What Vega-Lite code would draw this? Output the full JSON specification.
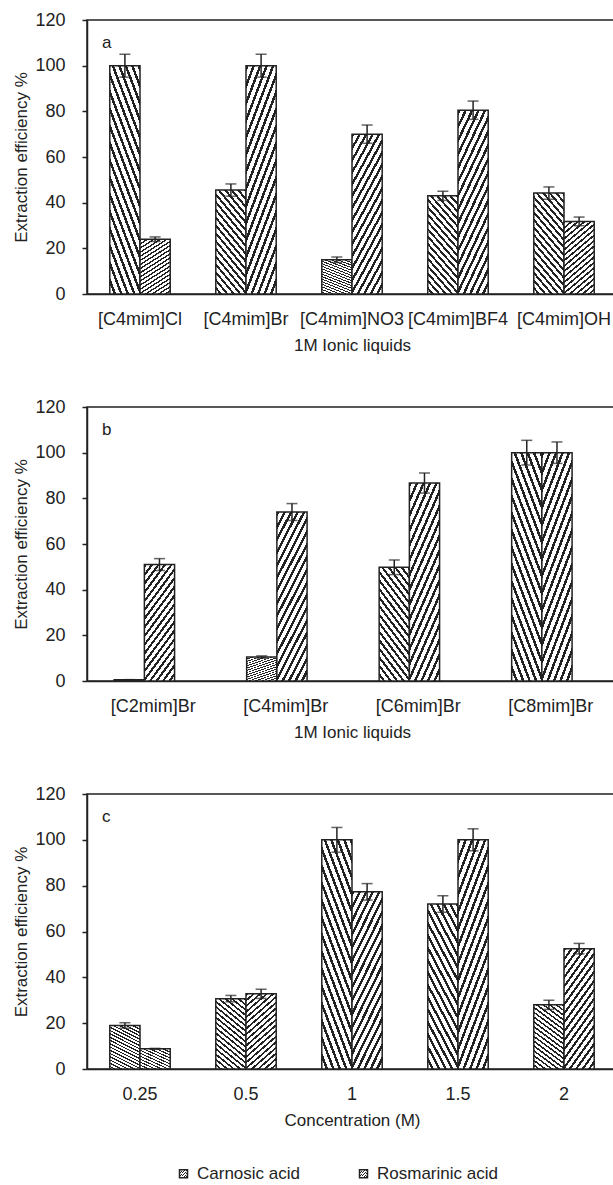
{
  "$schema": "https://vega.github.io/schema/vega-lite/v6.json",
  "background": "white",
  "padding": {"left": 12, "top": 10, "right": 0, "bottom": 0},
  "bounds": "flush",
  "spacing": 113,
  "config": {
    "font": "Liberation Sans",
    "view": {"stroke": "#222", "strokeWidth": 1.5},
    "axis": {"labelFont": "Liberation Sans", "titleFont": "Liberation Sans", "labelFontSize": 18, "titleFontSize": 17, "labelColor": "#222", "titleColor": "#222", "domainColor": "#222", "domainWidth": 1.5, "tickColor": "#222", "tickWidth": 1.5, "grid": false, "titleFontWeight": "normal"},
    "axisX": {"ticks": false, "labelAngle": 0, "labelPadding": 16, "titlePadding": 9, "labelOverlap": false},
    "axisY": {"tickSize": 5, "labelPadding": 17, "titlePadding": 4},
    "legend": {"labelFont": "Liberation Sans", "labelFontSize": 17, "labelColor": "#222", "symbolType": "square", "symbolSize": 64, "padding": 0}
  },
  "datasets": {
    "a": [
      {"cat": "[C4mim]Cl", "acid": "Carnosic acid", "value": 100, "lo": 95, "hi": 105},
      {"cat": "[C4mim]Cl", "acid": "Rosmarinic acid", "value": 24, "lo": 23, "hi": 25},
      {"cat": "[C4mim]Br", "acid": "Carnosic acid", "value": 45.5, "lo": 42.8, "hi": 48.2},
      {"cat": "[C4mim]Br", "acid": "Rosmarinic acid", "value": 100, "lo": 95, "hi": 105},
      {"cat": "[C4mim]NO3", "acid": "Carnosic acid", "value": 15, "lo": 13.8, "hi": 16.2},
      {"cat": "[C4mim]NO3", "acid": "Rosmarinic acid", "value": 70, "lo": 66, "hi": 74},
      {"cat": "[C4mim]BF4", "acid": "Carnosic acid", "value": 43, "lo": 41, "hi": 45},
      {"cat": "[C4mim]BF4", "acid": "Rosmarinic acid", "value": 80.5, "lo": 76.5, "hi": 84.5},
      {"cat": "[C4mim]OH", "acid": "Carnosic acid", "value": 44.2, "lo": 41.5, "hi": 46.9},
      {"cat": "[C4mim]OH", "acid": "Rosmarinic acid", "value": 31.8, "lo": 29.9, "hi": 33.7}
    ],
    "b": [
      {"cat": "[C2mim]Br", "acid": "Carnosic acid", "value": 0.5, "lo": 0.4, "hi": 0.6},
      {"cat": "[C2mim]Br", "acid": "Rosmarinic acid", "value": 51, "lo": 48.4, "hi": 53.6},
      {"cat": "[C4mim]Br", "acid": "Carnosic acid", "value": 10.5, "lo": 10, "hi": 11},
      {"cat": "[C4mim]Br", "acid": "Rosmarinic acid", "value": 74, "lo": 70.3, "hi": 77.7},
      {"cat": "[C6mim]Br", "acid": "Carnosic acid", "value": 49.8, "lo": 46.6, "hi": 53},
      {"cat": "[C6mim]Br", "acid": "Rosmarinic acid", "value": 86.7, "lo": 82.3, "hi": 91.1},
      {"cat": "[C8mim]Br", "acid": "Carnosic acid", "value": 100, "lo": 94.6, "hi": 105.4},
      {"cat": "[C8mim]Br", "acid": "Rosmarinic acid", "value": 100, "lo": 95.3, "hi": 104.7}
    ],
    "c": [
      {"cat": "0.25", "acid": "Carnosic acid", "value": 19, "lo": 17.8, "hi": 20.2},
      {"cat": "0.25", "acid": "Rosmarinic acid", "value": 8.8, "lo": 8.6, "hi": 9},
      {"cat": "0.5", "acid": "Carnosic acid", "value": 30.7, "lo": 29.3, "hi": 32.1},
      {"cat": "0.5", "acid": "Rosmarinic acid", "value": 32.8, "lo": 30.8, "hi": 34.8},
      {"cat": "1", "acid": "Carnosic acid", "value": 100, "lo": 94.6, "hi": 105.4},
      {"cat": "1", "acid": "Rosmarinic acid", "value": 77.3, "lo": 73.7, "hi": 80.9},
      {"cat": "1.5", "acid": "Carnosic acid", "value": 72, "lo": 68.4, "hi": 75.6},
      {"cat": "1.5", "acid": "Rosmarinic acid", "value": 100, "lo": 95.2, "hi": 104.8},
      {"cat": "2", "acid": "Carnosic acid", "value": 28, "lo": 26, "hi": 30},
      {"cat": "2", "acid": "Rosmarinic acid", "value": 52.5, "lo": 50.2, "hi": 54.8}
    ]
  },
  "vconcat": [
    {
      "width": 530, "height": 274,
      "data": {"name": "a"},
      "title": {"text": "a", "anchor": "start", "frame": "group", "offset": -41, "dx": 15, "fontSize": 17, "fontWeight": "normal", "font": "Liberation Sans", "color": "#222"},
      "encoding": {
        "x": {"field": "cat", "type": "nominal", "sort": null, "title": "1M Ionic liquids", "scale": {"paddingInner": 0.43, "paddingOuter": 0.215}},
        "xOffset": {"field": "acid", "type": "nominal", "sort": ["Carnosic acid", "Rosmarinic acid"], "scale": {"paddingInner": 0, "paddingOuter": 0}}
      },
      "layer": [
        {
          "mark": {"type": "bar", "strokeWidth": 1.5},
          "encoding": {
            "y": {"field": "value", "type": "quantitative", "scale": {"domain": [0, 120], "nice": false}, "axis": {"values": [0, 20, 40, 60, 80, 100, 120]}, "title": "Extraction efficiency %"},
            "stroke": {"field": "acid", "type": "nominal", "scale": {"domain": ["Carnosic acid", "Rosmarinic acid"], "range": ["#222", "#222"]},
              "legend": {"title": null, "orient": "none", "legendX": 88, "legendY": 1145, "direction": "horizontal", "columnPadding": 55, "labelOffset": 5,
                "encode": {"symbols": {"update": {"strokeWidth": {"value": 1}, "stroke": {"value": "#222"}, "fill": [
                  {"test": "datum.value === 'Carnosic acid'", "value": {"gradient": "linear", "x1": 0, "y1": 1, "x2": 1, "y2": 0, "stops": [{"offset":0,"color":"#222"},{"offset":0.1667,"color":"#222"},{"offset":0.1667,"color":"#fff"},{"offset":0.3333,"color":"#fff"},{"offset":0.3333,"color":"#222"},{"offset":0.5,"color":"#222"},{"offset":0.5,"color":"#fff"},{"offset":0.6667,"color":"#fff"},{"offset":0.6667,"color":"#222"},{"offset":0.8333,"color":"#222"},{"offset":0.8333,"color":"#fff"},{"offset":1,"color":"#fff"}]}},
                  {"value": {"gradient": "linear", "x1": 0, "y1": 0, "x2": 1, "y2": 1, "stops": [{"offset":0,"color":"#222"},{"offset":0.1667,"color":"#222"},{"offset":0.1667,"color":"#fff"},{"offset":0.3333,"color":"#fff"},{"offset":0.3333,"color":"#222"},{"offset":0.5,"color":"#222"},{"offset":0.5,"color":"#fff"},{"offset":0.6667,"color":"#fff"},{"offset":0.6667,"color":"#222"},{"offset":0.8333,"color":"#222"},{"offset":0.8333,"color":"#fff"},{"offset":1,"color":"#fff"}]}}
                ]}}}}},
            "fill": {"condition": {"test": "datum.acid === 'Carnosic acid'", "value": {"gradient": "linear", "x1": 1, "y1": 0, "x2": 0.579, "y2": 1.203, "stops": [{"offset":0,"color":"#222"},{"offset":0.0222,"color":"#222"},{"offset":0.0222,"color":"#fff"},{"offset":0.0556,"color":"#fff"},{"offset":0.0556,"color":"#222"},{"offset":0.0778,"color":"#222"},{"offset":0.0778,"color":"#fff"},{"offset":0.1111,"color":"#fff"},{"offset":0.1111,"color":"#222"},{"offset":0.1333,"color":"#222"},{"offset":0.1333,"color":"#fff"},{"offset":0.1667,"color":"#fff"},{"offset":0.1667,"color":"#222"},{"offset":0.1889,"color":"#222"},{"offset":0.1889,"color":"#fff"},{"offset":0.2222,"color":"#fff"},{"offset":0.2222,"color":"#222"},{"offset":0.2444,"color":"#222"},{"offset":0.2444,"color":"#fff"},{"offset":0.2778,"color":"#fff"},{"offset":0.2778,"color":"#222"},{"offset":0.3,"color":"#222"},{"offset":0.3,"color":"#fff"},{"offset":0.3333,"color":"#fff"},{"offset":0.3333,"color":"#222"},{"offset":0.3556,"color":"#222"},{"offset":0.3556,"color":"#fff"},{"offset":0.3889,"color":"#fff"},{"offset":0.3889,"color":"#222"},{"offset":0.4111,"color":"#222"},{"offset":0.4111,"color":"#fff"},{"offset":0.4444,"color":"#fff"},{"offset":0.4444,"color":"#222"},{"offset":0.4667,"color":"#222"},{"offset":0.4667,"color":"#fff"},{"offset":0.5,"color":"#fff"},{"offset":0.5,"color":"#222"},{"offset":0.5222,"color":"#222"},{"offset":0.5222,"color":"#fff"},{"offset":0.5556,"color":"#fff"},{"offset":0.5556,"color":"#222"},{"offset":0.5778,"color":"#222"},{"offset":0.5778,"color":"#fff"},{"offset":0.6111,"color":"#fff"},{"offset":0.6111,"color":"#222"},{"offset":0.6333,"color":"#222"},{"offset":0.6333,"color":"#fff"},{"offset":0.6667,"color":"#fff"},{"offset":0.6667,"color":"#222"},{"offset":0.6889,"color":"#222"},{"offset":0.6889,"color":"#fff"},{"offset":0.7222,"color":"#fff"},{"offset":0.7222,"color":"#222"},{"offset":0.7444,"color":"#222"},{"offset":0.7444,"color":"#fff"},{"offset":0.7778,"color":"#fff"},{"offset":0.7778,"color":"#222"},{"offset":0.8,"color":"#222"},{"offset":0.8,"color":"#fff"},{"offset":0.8333,"color":"#fff"},{"offset":0.8333,"color":"#222"},{"offset":0.8556,"color":"#222"},{"offset":0.8556,"color":"#fff"},{"offset":0.8889,"color":"#fff"},{"offset":0.8889,"color":"#222"},{"offset":0.9111,"color":"#222"},{"offset":0.9111,"color":"#fff"},{"offset":0.9444,"color":"#fff"},{"offset":0.9444,"color":"#222"},{"offset":0.9667,"color":"#222"},{"offset":0.9667,"color":"#fff"},{"offset":1,"color":"#fff"}]}},
              "value": {"gradient": "linear", "x1": 0, "y1": 0, "x2": 0.421, "y2": 1.203, "stops": [{"offset":0,"color":"#222"},{"offset":0.0222,"color":"#222"},{"offset":0.0222,"color":"#fff"},{"offset":0.0556,"color":"#fff"},{"offset":0.0556,"color":"#222"},{"offset":0.0778,"color":"#222"},{"offset":0.0778,"color":"#fff"},{"offset":0.1111,"color":"#fff"},{"offset":0.1111,"color":"#222"},{"offset":0.1333,"color":"#222"},{"offset":0.1333,"color":"#fff"},{"offset":0.1667,"color":"#fff"},{"offset":0.1667,"color":"#222"},{"offset":0.1889,"color":"#222"},{"offset":0.1889,"color":"#fff"},{"offset":0.2222,"color":"#fff"},{"offset":0.2222,"color":"#222"},{"offset":0.2444,"color":"#222"},{"offset":0.2444,"color":"#fff"},{"offset":0.2778,"color":"#fff"},{"offset":0.2778,"color":"#222"},{"offset":0.3,"color":"#222"},{"offset":0.3,"color":"#fff"},{"offset":0.3333,"color":"#fff"},{"offset":0.3333,"color":"#222"},{"offset":0.3556,"color":"#222"},{"offset":0.3556,"color":"#fff"},{"offset":0.3889,"color":"#fff"},{"offset":0.3889,"color":"#222"},{"offset":0.4111,"color":"#222"},{"offset":0.4111,"color":"#fff"},{"offset":0.4444,"color":"#fff"},{"offset":0.4444,"color":"#222"},{"offset":0.4667,"color":"#222"},{"offset":0.4667,"color":"#fff"},{"offset":0.5,"color":"#fff"},{"offset":0.5,"color":"#222"},{"offset":0.5222,"color":"#222"},{"offset":0.5222,"color":"#fff"},{"offset":0.5556,"color":"#fff"},{"offset":0.5556,"color":"#222"},{"offset":0.5778,"color":"#222"},{"offset":0.5778,"color":"#fff"},{"offset":0.6111,"color":"#fff"},{"offset":0.6111,"color":"#222"},{"offset":0.6333,"color":"#222"},{"offset":0.6333,"color":"#fff"},{"offset":0.6667,"color":"#fff"},{"offset":0.6667,"color":"#222"},{"offset":0.6889,"color":"#222"},{"offset":0.6889,"color":"#fff"},{"offset":0.7222,"color":"#fff"},{"offset":0.7222,"color":"#222"},{"offset":0.7444,"color":"#222"},{"offset":0.7444,"color":"#fff"},{"offset":0.7778,"color":"#fff"},{"offset":0.7778,"color":"#222"},{"offset":0.8,"color":"#222"},{"offset":0.8,"color":"#fff"},{"offset":0.8333,"color":"#fff"},{"offset":0.8333,"color":"#222"},{"offset":0.8556,"color":"#222"},{"offset":0.8556,"color":"#fff"},{"offset":0.8889,"color":"#fff"},{"offset":0.8889,"color":"#222"},{"offset":0.9111,"color":"#222"},{"offset":0.9111,"color":"#fff"},{"offset":0.9444,"color":"#fff"},{"offset":0.9444,"color":"#222"},{"offset":0.9667,"color":"#222"},{"offset":0.9667,"color":"#fff"},{"offset":1,"color":"#fff"}]}
            }
          }
        },
        {"mark": {"type": "rule", "color": "#222", "strokeWidth": 1.5}, "encoding": {"y": {"field": "lo", "type": "quantitative"}, "y2": {"field": "hi"}}},
        {"mark": {"type": "tick", "color": "#222", "thickness": 1.5, "size": 11}, "encoding": {"y": {"field": "lo", "type": "quantitative"}}},
        {"mark": {"type": "tick", "color": "#222", "thickness": 1.5, "size": 11}, "encoding": {"y": {"field": "hi", "type": "quantitative"}}}
      ]
    },
    {
      "width": 530, "height": 274,
      "data": {"name": "b"},
      "title": {"text": "b", "anchor": "start", "frame": "group", "offset": -41, "dx": 15, "fontSize": 17, "fontWeight": "normal", "font": "Liberation Sans", "color": "#222"},
      "encoding": {
        "x": {"field": "cat", "type": "nominal", "sort": null, "title": "1M Ionic liquids", "scale": {"paddingInner": 0.41, "paddingOuter": 0.205}},
        "xOffset": {"field": "acid", "type": "nominal", "sort": ["Carnosic acid", "Rosmarinic acid"], "scale": {"paddingInner": 0, "paddingOuter": 0}}
      },
      "layer": [
        {
          "mark": {"type": "bar", "strokeWidth": 1.5},
          "encoding": {
            "y": {"field": "value", "type": "quantitative", "scale": {"domain": [0, 120], "nice": false}, "axis": {"values": [0, 20, 40, 60, 80, 100, 120]}, "title": "Extraction efficiency %"},
            "stroke": {"field": "acid", "type": "nominal", "scale": {"domain": ["Carnosic acid", "Rosmarinic acid"], "range": ["#222", "#222"]},
              "legend": {"title": null, "orient": "none", "legendX": 88, "legendY": 1145, "direction": "horizontal", "columnPadding": 55, "labelOffset": 5,
                "encode": {"symbols": {"update": {"strokeWidth": {"value": 1}, "stroke": {"value": "#222"}, "fill": [
                  {"test": "datum.value === 'Carnosic acid'", "value": {"gradient": "linear", "x1": 0, "y1": 1, "x2": 1, "y2": 0, "stops": [{"offset":0,"color":"#222"},{"offset":0.1667,"color":"#222"},{"offset":0.1667,"color":"#fff"},{"offset":0.3333,"color":"#fff"},{"offset":0.3333,"color":"#222"},{"offset":0.5,"color":"#222"},{"offset":0.5,"color":"#fff"},{"offset":0.6667,"color":"#fff"},{"offset":0.6667,"color":"#222"},{"offset":0.8333,"color":"#222"},{"offset":0.8333,"color":"#fff"},{"offset":1,"color":"#fff"}]}},
                  {"value": {"gradient": "linear", "x1": 0, "y1": 0, "x2": 1, "y2": 1, "stops": [{"offset":0,"color":"#222"},{"offset":0.1667,"color":"#222"},{"offset":0.1667,"color":"#fff"},{"offset":0.3333,"color":"#fff"},{"offset":0.3333,"color":"#222"},{"offset":0.5,"color":"#222"},{"offset":0.5,"color":"#fff"},{"offset":0.6667,"color":"#fff"},{"offset":0.6667,"color":"#222"},{"offset":0.8333,"color":"#222"},{"offset":0.8333,"color":"#fff"},{"offset":1,"color":"#fff"}]}}
                ]}}}}},
            "fill": {"condition": {"test": "datum.acid === 'Carnosic acid'", "value": {"gradient": "linear", "x1": 1, "y1": 0, "x2": 0.579, "y2": 1.203, "stops": [{"offset":0,"color":"#222"},{"offset":0.0222,"color":"#222"},{"offset":0.0222,"color":"#fff"},{"offset":0.0556,"color":"#fff"},{"offset":0.0556,"color":"#222"},{"offset":0.0778,"color":"#222"},{"offset":0.0778,"color":"#fff"},{"offset":0.1111,"color":"#fff"},{"offset":0.1111,"color":"#222"},{"offset":0.1333,"color":"#222"},{"offset":0.1333,"color":"#fff"},{"offset":0.1667,"color":"#fff"},{"offset":0.1667,"color":"#222"},{"offset":0.1889,"color":"#222"},{"offset":0.1889,"color":"#fff"},{"offset":0.2222,"color":"#fff"},{"offset":0.2222,"color":"#222"},{"offset":0.2444,"color":"#222"},{"offset":0.2444,"color":"#fff"},{"offset":0.2778,"color":"#fff"},{"offset":0.2778,"color":"#222"},{"offset":0.3,"color":"#222"},{"offset":0.3,"color":"#fff"},{"offset":0.3333,"color":"#fff"},{"offset":0.3333,"color":"#222"},{"offset":0.3556,"color":"#222"},{"offset":0.3556,"color":"#fff"},{"offset":0.3889,"color":"#fff"},{"offset":0.3889,"color":"#222"},{"offset":0.4111,"color":"#222"},{"offset":0.4111,"color":"#fff"},{"offset":0.4444,"color":"#fff"},{"offset":0.4444,"color":"#222"},{"offset":0.4667,"color":"#222"},{"offset":0.4667,"color":"#fff"},{"offset":0.5,"color":"#fff"},{"offset":0.5,"color":"#222"},{"offset":0.5222,"color":"#222"},{"offset":0.5222,"color":"#fff"},{"offset":0.5556,"color":"#fff"},{"offset":0.5556,"color":"#222"},{"offset":0.5778,"color":"#222"},{"offset":0.5778,"color":"#fff"},{"offset":0.6111,"color":"#fff"},{"offset":0.6111,"color":"#222"},{"offset":0.6333,"color":"#222"},{"offset":0.6333,"color":"#fff"},{"offset":0.6667,"color":"#fff"},{"offset":0.6667,"color":"#222"},{"offset":0.6889,"color":"#222"},{"offset":0.6889,"color":"#fff"},{"offset":0.7222,"color":"#fff"},{"offset":0.7222,"color":"#222"},{"offset":0.7444,"color":"#222"},{"offset":0.7444,"color":"#fff"},{"offset":0.7778,"color":"#fff"},{"offset":0.7778,"color":"#222"},{"offset":0.8,"color":"#222"},{"offset":0.8,"color":"#fff"},{"offset":0.8333,"color":"#fff"},{"offset":0.8333,"color":"#222"},{"offset":0.8556,"color":"#222"},{"offset":0.8556,"color":"#fff"},{"offset":0.8889,"color":"#fff"},{"offset":0.8889,"color":"#222"},{"offset":0.9111,"color":"#222"},{"offset":0.9111,"color":"#fff"},{"offset":0.9444,"color":"#fff"},{"offset":0.9444,"color":"#222"},{"offset":0.9667,"color":"#222"},{"offset":0.9667,"color":"#fff"},{"offset":1,"color":"#fff"}]}},
              "value": {"gradient": "linear", "x1": 0, "y1": 0, "x2": 0.421, "y2": 1.203, "stops": [{"offset":0,"color":"#222"},{"offset":0.0222,"color":"#222"},{"offset":0.0222,"color":"#fff"},{"offset":0.0556,"color":"#fff"},{"offset":0.0556,"color":"#222"},{"offset":0.0778,"color":"#222"},{"offset":0.0778,"color":"#fff"},{"offset":0.1111,"color":"#fff"},{"offset":0.1111,"color":"#222"},{"offset":0.1333,"color":"#222"},{"offset":0.1333,"color":"#fff"},{"offset":0.1667,"color":"#fff"},{"offset":0.1667,"color":"#222"},{"offset":0.1889,"color":"#222"},{"offset":0.1889,"color":"#fff"},{"offset":0.2222,"color":"#fff"},{"offset":0.2222,"color":"#222"},{"offset":0.2444,"color":"#222"},{"offset":0.2444,"color":"#fff"},{"offset":0.2778,"color":"#fff"},{"offset":0.2778,"color":"#222"},{"offset":0.3,"color":"#222"},{"offset":0.3,"color":"#fff"},{"offset":0.3333,"color":"#fff"},{"offset":0.3333,"color":"#222"},{"offset":0.3556,"color":"#222"},{"offset":0.3556,"color":"#fff"},{"offset":0.3889,"color":"#fff"},{"offset":0.3889,"color":"#222"},{"offset":0.4111,"color":"#222"},{"offset":0.4111,"color":"#fff"},{"offset":0.4444,"color":"#fff"},{"offset":0.4444,"color":"#222"},{"offset":0.4667,"color":"#222"},{"offset":0.4667,"color":"#fff"},{"offset":0.5,"color":"#fff"},{"offset":0.5,"color":"#222"},{"offset":0.5222,"color":"#222"},{"offset":0.5222,"color":"#fff"},{"offset":0.5556,"color":"#fff"},{"offset":0.5556,"color":"#222"},{"offset":0.5778,"color":"#222"},{"offset":0.5778,"color":"#fff"},{"offset":0.6111,"color":"#fff"},{"offset":0.6111,"color":"#222"},{"offset":0.6333,"color":"#222"},{"offset":0.6333,"color":"#fff"},{"offset":0.6667,"color":"#fff"},{"offset":0.6667,"color":"#222"},{"offset":0.6889,"color":"#222"},{"offset":0.6889,"color":"#fff"},{"offset":0.7222,"color":"#fff"},{"offset":0.7222,"color":"#222"},{"offset":0.7444,"color":"#222"},{"offset":0.7444,"color":"#fff"},{"offset":0.7778,"color":"#fff"},{"offset":0.7778,"color":"#222"},{"offset":0.8,"color":"#222"},{"offset":0.8,"color":"#fff"},{"offset":0.8333,"color":"#fff"},{"offset":0.8333,"color":"#222"},{"offset":0.8556,"color":"#222"},{"offset":0.8556,"color":"#fff"},{"offset":0.8889,"color":"#fff"},{"offset":0.8889,"color":"#222"},{"offset":0.9111,"color":"#222"},{"offset":0.9111,"color":"#fff"},{"offset":0.9444,"color":"#fff"},{"offset":0.9444,"color":"#222"},{"offset":0.9667,"color":"#222"},{"offset":0.9667,"color":"#fff"},{"offset":1,"color":"#fff"}]}
            }
          }
        },
        {"mark": {"type": "rule", "color": "#222", "strokeWidth": 1.5}, "encoding": {"y": {"field": "lo", "type": "quantitative"}, "y2": {"field": "hi"}}},
        {"mark": {"type": "tick", "color": "#222", "thickness": 1.5, "size": 11}, "encoding": {"y": {"field": "lo", "type": "quantitative"}}},
        {"mark": {"type": "tick", "color": "#222", "thickness": 1.5, "size": 11}, "encoding": {"y": {"field": "hi", "type": "quantitative"}}}
      ]
    },
    {
      "width": 530, "height": 275,
      "data": {"name": "c"},
      "title": {"text": "c", "anchor": "start", "frame": "group", "offset": -41, "dx": 15, "fontSize": 17, "fontWeight": "normal", "font": "Liberation Sans", "color": "#222"},
      "encoding": {
        "x": {"field": "cat", "type": "nominal", "sort": null, "title": "Concentration (M)", "scale": {"paddingInner": 0.43, "paddingOuter": 0.215}},
        "xOffset": {"field": "acid", "type": "nominal", "sort": ["Carnosic acid", "Rosmarinic acid"], "scale": {"paddingInner": 0, "paddingOuter": 0}}
      },
      "layer": [
        {
          "mark": {"type": "bar", "strokeWidth": 1.5},
          "encoding": {
            "y": {"field": "value", "type": "quantitative", "scale": {"domain": [0, 120], "nice": false}, "axis": {"values": [0, 20, 40, 60, 80, 100, 120]}, "title": "Extraction efficiency %"},
            "stroke": {"field": "acid", "type": "nominal", "scale": {"domain": ["Carnosic acid", "Rosmarinic acid"], "range": ["#222", "#222"]},
              "legend": {"title": null, "orient": "none", "legendX": 88, "legendY": 1145, "direction": "horizontal", "columnPadding": 55, "labelOffset": 5,
                "encode": {"symbols": {"update": {"strokeWidth": {"value": 1}, "stroke": {"value": "#222"}, "fill": [
                  {"test": "datum.value === 'Carnosic acid'", "value": {"gradient": "linear", "x1": 0, "y1": 1, "x2": 1, "y2": 0, "stops": [{"offset":0,"color":"#222"},{"offset":0.1667,"color":"#222"},{"offset":0.1667,"color":"#fff"},{"offset":0.3333,"color":"#fff"},{"offset":0.3333,"color":"#222"},{"offset":0.5,"color":"#222"},{"offset":0.5,"color":"#fff"},{"offset":0.6667,"color":"#fff"},{"offset":0.6667,"color":"#222"},{"offset":0.8333,"color":"#222"},{"offset":0.8333,"color":"#fff"},{"offset":1,"color":"#fff"}]}},
                  {"value": {"gradient": "linear", "x1": 0, "y1": 0, "x2": 1, "y2": 1, "stops": [{"offset":0,"color":"#222"},{"offset":0.1667,"color":"#222"},{"offset":0.1667,"color":"#fff"},{"offset":0.3333,"color":"#fff"},{"offset":0.3333,"color":"#222"},{"offset":0.5,"color":"#222"},{"offset":0.5,"color":"#fff"},{"offset":0.6667,"color":"#fff"},{"offset":0.6667,"color":"#222"},{"offset":0.8333,"color":"#222"},{"offset":0.8333,"color":"#fff"},{"offset":1,"color":"#fff"}]}}
                ]}}}}},
            "fill": {"condition": {"test": "datum.acid === 'Carnosic acid'", "value": {"gradient": "linear", "x1": 1, "y1": 0, "x2": 0.579, "y2": 1.203, "stops": [{"offset":0,"color":"#222"},{"offset":0.0222,"color":"#222"},{"offset":0.0222,"color":"#fff"},{"offset":0.0556,"color":"#fff"},{"offset":0.0556,"color":"#222"},{"offset":0.0778,"color":"#222"},{"offset":0.0778,"color":"#fff"},{"offset":0.1111,"color":"#fff"},{"offset":0.1111,"color":"#222"},{"offset":0.1333,"color":"#222"},{"offset":0.1333,"color":"#fff"},{"offset":0.1667,"color":"#fff"},{"offset":0.1667,"color":"#222"},{"offset":0.1889,"color":"#222"},{"offset":0.1889,"color":"#fff"},{"offset":0.2222,"color":"#fff"},{"offset":0.2222,"color":"#222"},{"offset":0.2444,"color":"#222"},{"offset":0.2444,"color":"#fff"},{"offset":0.2778,"color":"#fff"},{"offset":0.2778,"color":"#222"},{"offset":0.3,"color":"#222"},{"offset":0.3,"color":"#fff"},{"offset":0.3333,"color":"#fff"},{"offset":0.3333,"color":"#222"},{"offset":0.3556,"color":"#222"},{"offset":0.3556,"color":"#fff"},{"offset":0.3889,"color":"#fff"},{"offset":0.3889,"color":"#222"},{"offset":0.4111,"color":"#222"},{"offset":0.4111,"color":"#fff"},{"offset":0.4444,"color":"#fff"},{"offset":0.4444,"color":"#222"},{"offset":0.4667,"color":"#222"},{"offset":0.4667,"color":"#fff"},{"offset":0.5,"color":"#fff"},{"offset":0.5,"color":"#222"},{"offset":0.5222,"color":"#222"},{"offset":0.5222,"color":"#fff"},{"offset":0.5556,"color":"#fff"},{"offset":0.5556,"color":"#222"},{"offset":0.5778,"color":"#222"},{"offset":0.5778,"color":"#fff"},{"offset":0.6111,"color":"#fff"},{"offset":0.6111,"color":"#222"},{"offset":0.6333,"color":"#222"},{"offset":0.6333,"color":"#fff"},{"offset":0.6667,"color":"#fff"},{"offset":0.6667,"color":"#222"},{"offset":0.6889,"color":"#222"},{"offset":0.6889,"color":"#fff"},{"offset":0.7222,"color":"#fff"},{"offset":0.7222,"color":"#222"},{"offset":0.7444,"color":"#222"},{"offset":0.7444,"color":"#fff"},{"offset":0.7778,"color":"#fff"},{"offset":0.7778,"color":"#222"},{"offset":0.8,"color":"#222"},{"offset":0.8,"color":"#fff"},{"offset":0.8333,"color":"#fff"},{"offset":0.8333,"color":"#222"},{"offset":0.8556,"color":"#222"},{"offset":0.8556,"color":"#fff"},{"offset":0.8889,"color":"#fff"},{"offset":0.8889,"color":"#222"},{"offset":0.9111,"color":"#222"},{"offset":0.9111,"color":"#fff"},{"offset":0.9444,"color":"#fff"},{"offset":0.9444,"color":"#222"},{"offset":0.9667,"color":"#222"},{"offset":0.9667,"color":"#fff"},{"offset":1,"color":"#fff"}]}},
              "value": {"gradient": "linear", "x1": 0, "y1": 0, "x2": 0.421, "y2": 1.203, "stops": [{"offset":0,"color":"#222"},{"offset":0.0222,"color":"#222"},{"offset":0.0222,"color":"#fff"},{"offset":0.0556,"color":"#fff"},{"offset":0.0556,"color":"#222"},{"offset":0.0778,"color":"#222"},{"offset":0.0778,"color":"#fff"},{"offset":0.1111,"color":"#fff"},{"offset":0.1111,"color":"#222"},{"offset":0.1333,"color":"#222"},{"offset":0.1333,"color":"#fff"},{"offset":0.1667,"color":"#fff"},{"offset":0.1667,"color":"#222"},{"offset":0.1889,"color":"#222"},{"offset":0.1889,"color":"#fff"},{"offset":0.2222,"color":"#fff"},{"offset":0.2222,"color":"#222"},{"offset":0.2444,"color":"#222"},{"offset":0.2444,"color":"#fff"},{"offset":0.2778,"color":"#fff"},{"offset":0.2778,"color":"#222"},{"offset":0.3,"color":"#222"},{"offset":0.3,"color":"#fff"},{"offset":0.3333,"color":"#fff"},{"offset":0.3333,"color":"#222"},{"offset":0.3556,"color":"#222"},{"offset":0.3556,"color":"#fff"},{"offset":0.3889,"color":"#fff"},{"offset":0.3889,"color":"#222"},{"offset":0.4111,"color":"#222"},{"offset":0.4111,"color":"#fff"},{"offset":0.4444,"color":"#fff"},{"offset":0.4444,"color":"#222"},{"offset":0.4667,"color":"#222"},{"offset":0.4667,"color":"#fff"},{"offset":0.5,"color":"#fff"},{"offset":0.5,"color":"#222"},{"offset":0.5222,"color":"#222"},{"offset":0.5222,"color":"#fff"},{"offset":0.5556,"color":"#fff"},{"offset":0.5556,"color":"#222"},{"offset":0.5778,"color":"#222"},{"offset":0.5778,"color":"#fff"},{"offset":0.6111,"color":"#fff"},{"offset":0.6111,"color":"#222"},{"offset":0.6333,"color":"#222"},{"offset":0.6333,"color":"#fff"},{"offset":0.6667,"color":"#fff"},{"offset":0.6667,"color":"#222"},{"offset":0.6889,"color":"#222"},{"offset":0.6889,"color":"#fff"},{"offset":0.7222,"color":"#fff"},{"offset":0.7222,"color":"#222"},{"offset":0.7444,"color":"#222"},{"offset":0.7444,"color":"#fff"},{"offset":0.7778,"color":"#fff"},{"offset":0.7778,"color":"#222"},{"offset":0.8,"color":"#222"},{"offset":0.8,"color":"#fff"},{"offset":0.8333,"color":"#fff"},{"offset":0.8333,"color":"#222"},{"offset":0.8556,"color":"#222"},{"offset":0.8556,"color":"#fff"},{"offset":0.8889,"color":"#fff"},{"offset":0.8889,"color":"#222"},{"offset":0.9111,"color":"#222"},{"offset":0.9111,"color":"#fff"},{"offset":0.9444,"color":"#fff"},{"offset":0.9444,"color":"#222"},{"offset":0.9667,"color":"#222"},{"offset":0.9667,"color":"#fff"},{"offset":1,"color":"#fff"}]}
            }
          }
        },
        {"mark": {"type": "rule", "color": "#222", "strokeWidth": 1.5}, "encoding": {"y": {"field": "lo", "type": "quantitative"}, "y2": {"field": "hi"}}},
        {"mark": {"type": "tick", "color": "#222", "thickness": 1.5, "size": 11}, "encoding": {"y": {"field": "lo", "type": "quantitative"}}},
        {"mark": {"type": "tick", "color": "#222", "thickness": 1.5, "size": 11}, "encoding": {"y": {"field": "hi", "type": "quantitative"}}}
      ]
    }
  ]
}
